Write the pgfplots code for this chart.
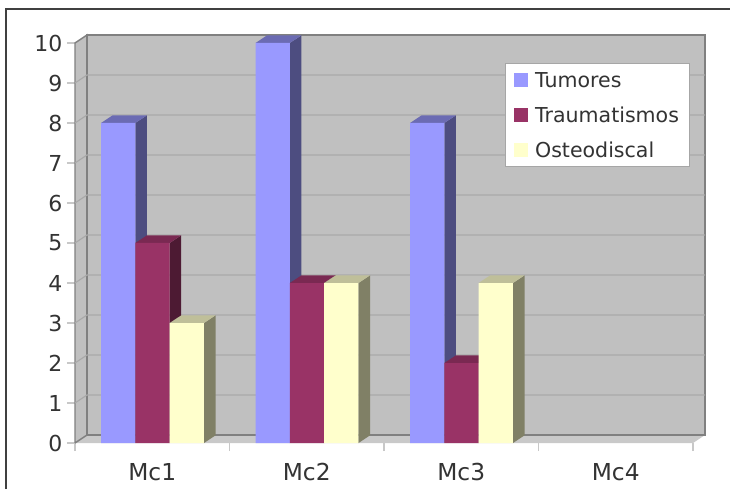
\documentclass[border=0pt]{standalone}
\usepackage{fontspec}
\setmainfont{DejaVu Sans}
\usepackage{pgfplots}
\pgfplotsset{compat=1.18}

\definecolor{wall}{HTML}{C0C0C0}
\definecolor{floorc}{HTML}{C9C9C9}
\definecolor{wallline}{HTML}{808080}
\definecolor{gridc}{HTML}{A9A9A9}
\definecolor{tickc}{HTML}{C8C8C8}
\definecolor{txt}{HTML}{333333}
\definecolor{tumF}{HTML}{9999FF}
\definecolor{tumT}{HTML}{6B6BB3}
\definecolor{tumS}{HTML}{4D4D80}
\definecolor{traF}{HTML}{993366}
\definecolor{traT}{HTML}{7A2952}
\definecolor{traS}{HTML}{4D1A33}
\definecolor{ostF}{HTML}{FFFFCC}
\definecolor{ostT}{HTML}{BFBF99}
\definecolor{ostS}{HTML}{808066}

% depth of the walls and of the bars, in axis units
\newcommand{\wdx}{0.0777}
\newcommand{\wdy}{0.2}
\newcommand{\bdx}{0.0745}
\newcommand{\bdy}{0.19}

% category, slot in group, value, colour prefix
\newcommand{\threedbar}[4]{%
  \pgfmathsetmacro\xa{#1+0.1683+#2*0.2222}%
  \pgfmathsetmacro\xb{\xa+0.2222}%
  \pgfmathsetmacro\xc{\xb+\bdx}%
  \pgfmathsetmacro\xd{\xa+\bdx}%
  \pgfmathsetmacro\yt{#3+\bdy}%
  \edef\temp{%
    \noexpand\addplot[forget plot, draw=none, fill=#4S] coordinates {(\xb,0) (\xc,\bdy) (\xc,\yt) (\xb,#3) (\xb,0)};
    \noexpand\addplot[forget plot, draw=none, fill=#4T] coordinates {(\xa,#3) (\xb,#3) (\xc,\yt) (\xd,\yt) (\xa,#3)};
    \noexpand\addplot[forget plot, draw=none, fill=#4F] coordinates {(\xa,0) (\xb,0) (\xb,#3) (\xa,#3) (\xa,0)};
  }\temp
}
\newcommand{\wallgrid}[1]{%
  \pgfmathsetmacro\yg{#1+\wdy}%
  \edef\temp{\noexpand\addplot[forget plot, gridc, line width=0.9pt] coordinates {(0,#1) (\wdx,\yg) (4.0777,\yg)};}\temp
}

\begin{document}
\begin{tikzpicture}
  \path[use as bounding box] (0pt,0pt) rectangle (547.5pt,366.75pt);
  \begin{axis}[
    at={(56.25pt,34.5pt)}, anchor=south west,
    scale only axis, width=472.5pt, height=306pt,
    xmin=0, xmax=4.0777, ymin=0, ymax=10.2,
    clip=false,
    axis line style={draw=none},
    tick align=outside, xtick pos=bottom, ytick pos=left,
    tick style={tickc, line width=0.8pt},
    major tick length=6pt,
    xtick={0,1,2,3,4}, xticklabels={},
    extra x ticks={0.5,1.5,2.5,3.5},
    extra x tick labels={Mc1,Mc2,Mc3,Mc4},
    extra x tick style={major tick length=0pt, tick label style={yshift=-11.5pt}},
    ytick={0,1,...,10},
    /pgf/number format/assume math mode=true,
    tick label style={text=txt},
    x tick label style={font=\fontsize{17.5}{20}\selectfont},
    y tick label style={font=\fontsize{16.5}{19}\selectfont},
    legend cell align=left,
    legend style={
      at={(0.6825,0.9314)}, anchor=north west,
      draw=wallline!70, line width=0.6pt, fill=white,
      font=\fontsize{15.4}{18}\selectfont, text=txt,
      inner xsep=6.5pt, inner ysep=6pt,
      row sep=12.5pt,
      nodes={inner sep=1pt, text depth=0pt},
    },
    legend image code/.code={\fill[draw=none,#1] (0pt,-5.25pt) rectangle (10.5pt,5.25pt); \path (14.5pt,0pt);},
  ]
    % walls and floor
    \addplot[forget plot, draw=none, fill=floorc] coordinates {(0,0) (4,0) (4.0777,0.2) (0.0777,0.2) (0,0)};
    \addplot[forget plot, draw=wallline, line width=1.1pt, fill=wall] coordinates {(0,0) (0.0777,0.2) (0.0777,10.2) (0,10) (0,0)};
    \addplot[forget plot, draw=wallline, line width=1.1pt, fill=wall] coordinates {(0.0777,0.2) (4.0777,0.2) (4.0777,10.2) (0.0777,10.2) (0.0777,0.2)};
    \wallgrid{1}\wallgrid{2}\wallgrid{3}\wallgrid{4}\wallgrid{5}
    \wallgrid{6}\wallgrid{7}\wallgrid{8}\wallgrid{9}

    % Mc1
    \threedbar{0}{0}{8}{tum}
    \threedbar{0}{1}{5}{tra}
    \threedbar{0}{2}{3}{ost}
    % Mc2
    \threedbar{1}{0}{10}{tum}
    \threedbar{1}{1}{4}{tra}
    \threedbar{1}{2}{4}{ost}
    % Mc3
    \threedbar{2}{0}{8}{tum}
    \threedbar{2}{1}{2}{tra}
    \threedbar{2}{2}{4}{ost}

    \addlegendimage{fill=tumF}
    \addlegendentry{Tumores}
    \addlegendimage{fill=traF}
    \addlegendentry{Traumatismos}
    \addlegendimage{fill=ostF}
    \addlegendentry{Osteodiscal}
  \end{axis}
  % outer frame of the scanned figure
  \draw[color=black!75, line width=0.9pt] (4.5pt,0pt) -- (4.5pt,360pt) -- (547.5pt,360pt);
\end{tikzpicture}
\end{document}
